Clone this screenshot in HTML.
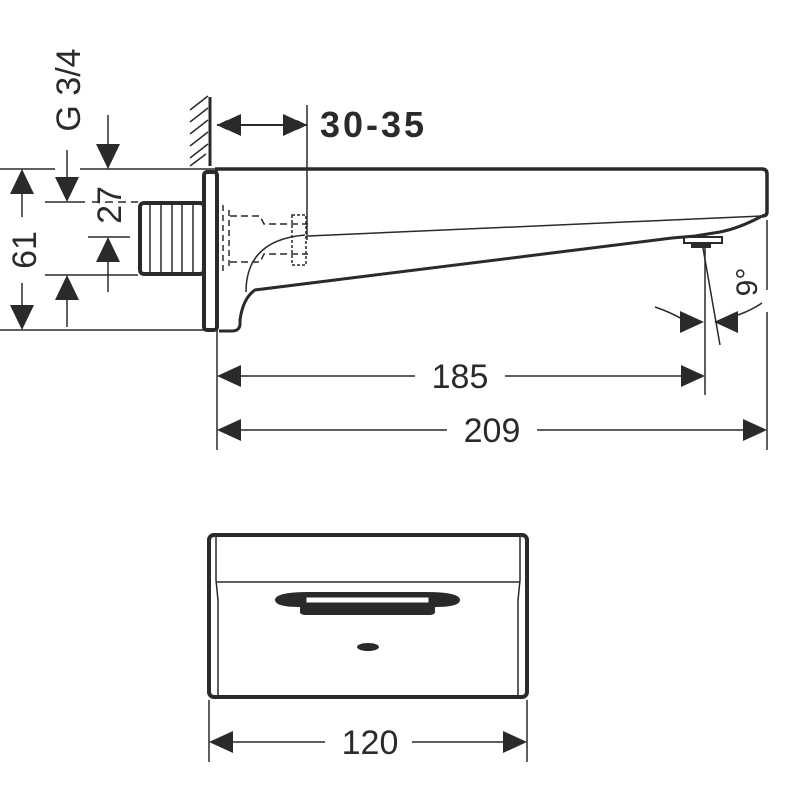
<!DOCTYPE html>
<html><head><meta charset="utf-8"><style>body{margin:0;background:#fff}svg{display:block}</style></head>
<body>
<svg width="800" height="800" viewBox="0 0 800 800" xmlns="http://www.w3.org/2000/svg" font-family="Liberation Sans, sans-serif" fill="none" stroke="#2a2a2a">
<defs>
<marker id="a" viewBox="0 0 10 10" refX="10" refY="5" markerWidth="10" markerHeight="10" markerUnits="userSpaceOnUse" orient="auto"><path d="M0,0L10,5L0,10z" fill="#2a2a2a" stroke="none"/></marker>
</defs>
<g stroke-width="2">
<!-- wall -->
<line x1="210" y1="97" x2="210" y2="166" stroke-width="3"/>
<path d="M190,110l18,-14M190,122l18,-14M190,134l18,-14M190,146l18,-14M190,158l18,-14M190,166l16,-12" stroke-width="1.5"/>
<!-- spout -->
<path d="M215,169H762q5,0 5,5V212q0,4 -5,4" stroke-width="3.5"/>
<line x1="308" y1="236" x2="762" y2="216" stroke-width="1.5"/>
<path d="M762,216Q740,228 720,232L695,236L672,238L255,290Q243,298 240,320L240,325Q239,331 232,331H219" stroke-width="3"/>
<path d="M684,237h38v6h-38z" stroke-width="2"/>
<path d="M692,243h18v4h-18z" fill="#2a2a2a"/>
<path d="M246,292Q246,240 305,235" stroke-width="1.5"/>
<!-- flange -->
<rect x="204" y="172" width="13" height="158" rx="3" stroke-width="4"/>
<line x1="217" y1="169" x2="217" y2="450" stroke-width="1.5"/>
<!-- nipple -->
<rect x="140" y="203" width="64" height="71" rx="4" stroke-width="4"/>
<path d="M150,205v67M161,205v67M172,205v67M182,205v67M193,205v67" stroke-width="1.5"/>
<path d="M223,205v67M229,210v60" stroke-width="1.5" stroke-dasharray="6,4"/>
<path d="M230,216h30l4,8h44M230,262h30l4,-8h44" stroke-width="1.5" stroke-dasharray="7,4"/>
<path d="M292,215h14v50h-14z" stroke-width="1.5" stroke-dasharray="3,2"/>
<!-- 30-35 -->
<line x1="307" y1="105" x2="307" y2="240" stroke-width="1.5"/>
<line x1="240" y1="125" x2="217" y2="125" marker-end="url(#a)"/>
<line x1="230" y1="125" x2="307" y2="125" marker-end="url(#a)"/>
<path d="M217,125l24,-11v22z M307,125l-24,-11v22z" fill="#2a2a2a" stroke="none"/>
<!-- ext lines left -->
<path d="M0,169H55M80,169H215M45,202H85M0,330H215M45,275H138M88,237H130" stroke-width="1.5"/>
<path d="M92,202H138" stroke-width="1.5" stroke-dasharray="8,5"/>
<!-- 61 -->
<line x1="22" y1="217" x2="22" y2="190" stroke-width="1.5"/>
<path d="M22,169l-12,25h24z" fill="#2a2a2a" stroke="none"/>
<line x1="22" y1="283" x2="22" y2="310" stroke-width="1.5"/>
<path d="M22,330l-12,-25h24z" fill="#2a2a2a" stroke="none"/>
<!-- G3/4 -->
<line x1="67" y1="150" x2="67" y2="180" stroke-width="1.5"/>
<path d="M67,202l-12,-25h24z" fill="#2a2a2a" stroke="none"/>
<line x1="67" y1="295" x2="67" y2="327" stroke-width="1.5"/>
<path d="M67,275l-12,25h24z" fill="#2a2a2a" stroke="none"/>
<!-- 27 -->
<line x1="108" y1="115" x2="108" y2="150" stroke-width="1.5"/>
<path d="M108,169l-12,-25h24z" fill="#2a2a2a" stroke="none"/>
<line x1="108" y1="255" x2="108" y2="292" stroke-width="1.5"/>
<path d="M108,237l-12,25h24z" fill="#2a2a2a" stroke="none"/>
<!-- 185 / 209 -->
<line x1="705" y1="245" x2="705" y2="395" stroke-width="1.5"/>
<path d="M767,220V290M767,312V450" stroke-width="1.5"/>
<path d="M240,376H415M505,376H683" stroke-width="1.5"/>
<path d="M217,376l24,-11v22zM705,376l-24,-11v22z" fill="#2a2a2a" stroke="none"/>
<path d="M240,430H447M537,430H745" stroke-width="1.5"/>
<path d="M217,430l24,-11v22zM767,430l-24,-11v22z" fill="#2a2a2a" stroke="none"/>
<!-- 9 deg -->
<line x1="703" y1="248" x2="720" y2="345" stroke-width="1.5"/>
<path d="M655,307Q670,312 684,320M762,303Q752,310 738,315" stroke-width="1.5"/>
<path d="M704,322l-24,-11v22zM714,322l24,-11v22z" fill="#2a2a2a" stroke="none"/>
<!-- bottom view -->
<rect x="209" y="535" width="318" height="162" rx="5" stroke-width="4"/>
<path d="M217,582H520M216,537V580L218,600V695M520,537V580L518,600V695" stroke-width="1.5"/>
<path d="M275,600Q275,592 310,592H425Q460,592 460,600Q460,607 435,607V612Q435,615 428,615H307Q300,615 300,612V607Q275,607 275,600z" fill="#2a2a2a" stroke="none"/>
<rect x="306" y="597" width="123" height="6" fill="#fff" stroke="#2a2a2a" stroke-width="1"/>
<ellipse cx="368" cy="647" rx="11" ry="4" fill="#2a2a2a" stroke="none"/>
<path d="M209,700V762M527,700V762" stroke-width="1.5"/>
<path d="M232,742H325M412,742H504" stroke-width="1.5"/>
<path d="M209,742l24,-11v22zM527,742l-24,-11v22z" fill="#2a2a2a" stroke="none"/>
</g>
<g fill="#2a2a2a" stroke="none" font-size="34">
<text x="320" y="137" font-weight="bold" font-size="36" letter-spacing="3">30-35</text>
<text x="460" y="388" text-anchor="middle">185</text>
<text x="492" y="442" text-anchor="middle">209</text>
<text x="370" y="754" text-anchor="middle">120</text>
<text transform="translate(36,250) rotate(-90)" text-anchor="middle">61</text>
<text transform="translate(80,90) rotate(-90)" text-anchor="middle">G 3/4</text>
<text transform="translate(121,205) rotate(-90)" text-anchor="middle">27</text>
<text transform="translate(757,282) rotate(-90)" text-anchor="middle" font-size="30">9°</text>
</g>
</svg>
</body></html>
